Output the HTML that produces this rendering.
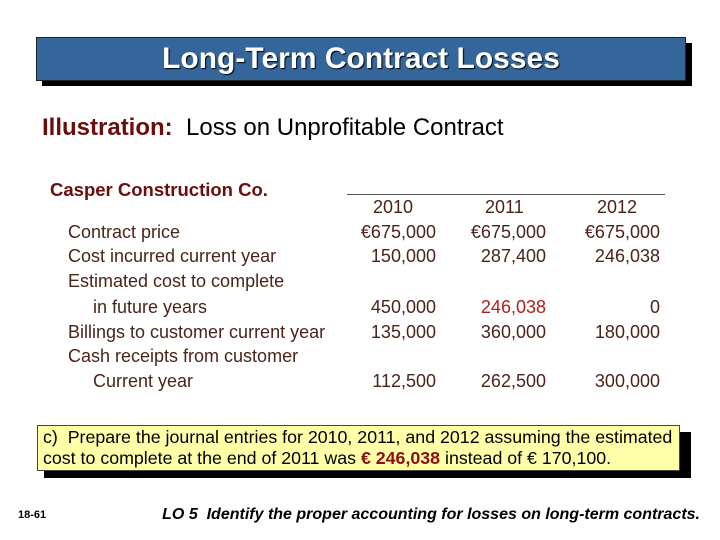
<!DOCTYPE html>
<html><head><meta charset="utf-8"><style>
body{margin:0;width:720px;height:540px;background:#fff;position:relative;overflow:hidden;font-family:"Liberation Sans",sans-serif}
.a{position:absolute;white-space:nowrap}
.row{position:absolute;left:0;width:720px;height:24px;font-size:18px;color:#4a2418}
.row span{position:absolute;top:0}
.r{text-align:right}
</style></head><body>
<div class="a" style="left:42px;top:43px;width:650px;height:43px;background:#000"></div>
<div class="a" style="left:36px;top:37px;width:648px;height:42px;background:#35669b;border:1px solid #222;color:#fff;font-size:30px;font-weight:bold;text-align:center;line-height:42px;text-shadow:1px 1px 1px #000">Long-Term Contract Losses</div>
<div class="a" style="left:42px;top:114px;font-size:24px;color:#000"><span style="color:#6b0d0d;font-weight:bold">Illustration:</span>&nbsp; Loss on Unprofitable Contract</div>
<div class="a" style="left:50px;top:179px;font-size:18.5px;font-weight:bold;color:#6b0d0d">Casper Construction Co.</div>
<div class="a" style="left:347px;top:194px;width:318px;height:1px;background:#555"></div>
<div class="row" style="top:197px"><span style="left:373px">2010</span><span style="left:485px">2011</span><span style="left:597px">2012</span></div>
<div class="row" style="top:222px"><span style="left:68px">Contract price</span><span class="r" style="right:284px">€675,000</span><span class="r" style="right:174px">€675,000</span><span class="r" style="right:60px">€675,000</span></div>
<div class="row" style="top:246px"><span style="left:68px">Cost incurred current year</span><span class="r" style="right:284px">150,000</span><span class="r" style="right:174px">287,400</span><span class="r" style="right:60px">246,038</span></div>
<div class="row" style="top:271px"><span style="left:68px">Estimated cost to complete</span></div>
<div class="row" style="top:297px"><span style="left:93px">in future years</span><span class="r" style="right:284px">450,000</span><span class="r" style="right:174px;color:#b02020">246,038</span><span class="r" style="right:60px">0</span></div>
<div class="row" style="top:322px"><span style="left:68px">Billings to customer current year</span><span class="r" style="right:284px">135,000</span><span class="r" style="right:174px">360,000</span><span class="r" style="right:60px">180,000</span></div>
<div class="row" style="top:346px"><span style="left:68px">Cash receipts from customer</span></div>
<div class="row" style="top:371px"><span style="left:93px">Current year</span><span class="r" style="right:284px">112,500</span><span class="r" style="right:174px">262,500</span><span class="r" style="right:60px">300,000</span></div>
<div class="a" style="left:44px;top:432px;width:647px;height:46px;background:#000"></div>
<div class="a" style="left:37px;top:425px;width:641px;height:44px;background:#ffffa8;border:1px solid #444"></div>
<div class="a" style="left:43px;top:427px;font-size:17.8px;line-height:21px;color:#000">c)&nbsp; Prepare the journal entries for 2010, 2011, and 2012 assuming the estimated<br>cost to complete at the end of 2011 was <b style="color:#8b1010">€ 246,038</b> instead of € 170,100.</div>
<div class="a" style="left:18px;top:509px;font-size:11px;font-weight:bold">18-61</div>
<div class="a" style="right:20px;top:506px;font-size:16px;font-weight:bold;font-style:italic">LO 5&nbsp; Identify the proper accounting for losses on long-term contracts.</div>
</body></html>
